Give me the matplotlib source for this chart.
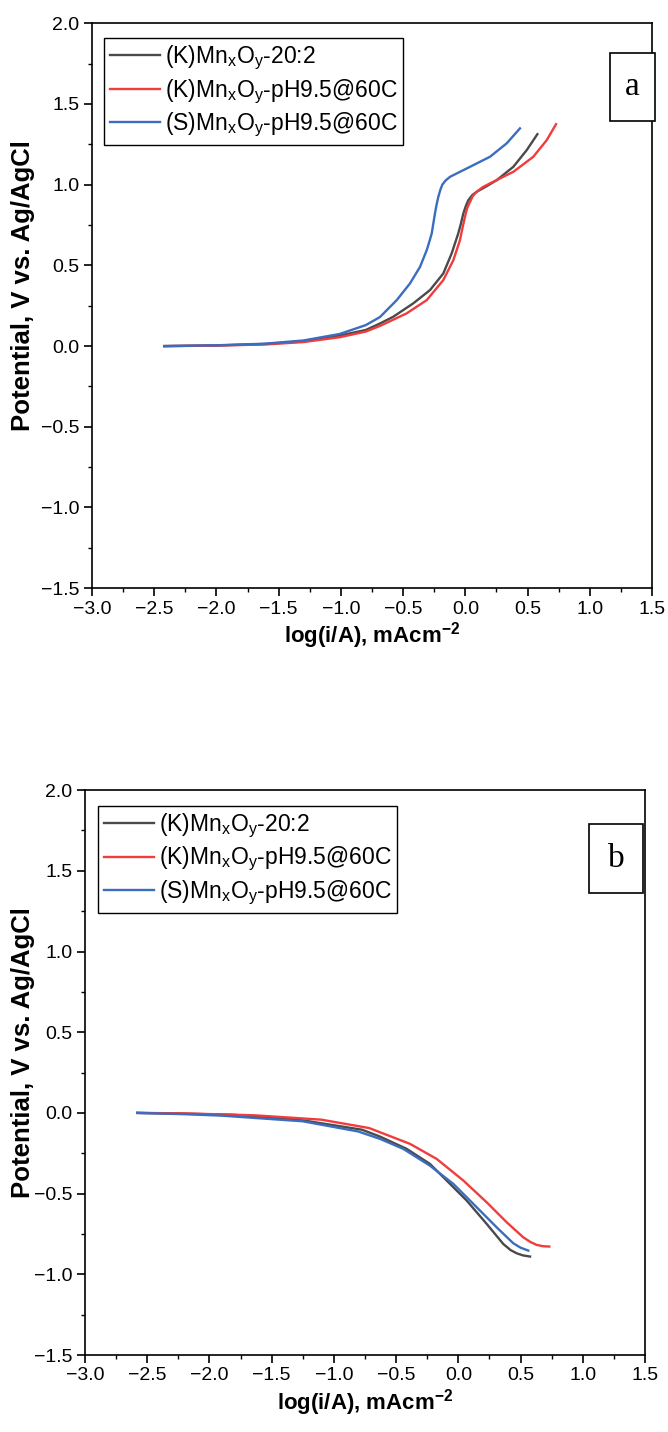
import matplotlib
matplotlib.use("Agg")
import matplotlib.pyplot as plt
from matplotlib.patches import Rectangle
from matplotlib.ticker import MultipleLocator

plt.rcParams['font.family'] = ['Liberation Sans', 'DejaVu Sans']
plt.rcParams['mathtext.fontset'] = 'custom'
plt.rcParams['mathtext.rm'] = 'Liberation Sans'
plt.rcParams['mathtext.it'] = 'Liberation Sans:italic'
plt.rcParams['mathtext.bf'] = 'Liberation Sans:bold'
plt.rcParams['mathtext.default'] = 'regular'

labels = ["(K)Mn$_x$O$_y$-20:2", "(K)Mn$_x$O$_y$-pH9.5@60C", "(S)Mn$_x$O$_y$-pH9.5@60C"]
colors = ['#4a4a4a', '#f03c3c', '#3a6cc0']

# Panel a (anodic)
a_black_x = [-2.42, -2.0, -1.61, -1.3, -1.01, -0.8, -0.686, -0.579, -0.418, -0.284, -0.177, -0.11, -0.057,
             -0.035, -0.016, 0.005, 0.024, 0.055, 0.091, 0.17, 0.252, 0.386, 0.493, 0.579]
a_black_y = [0.0, 0.004, 0.013, 0.03, 0.065, 0.10, 0.14, 0.182, 0.265, 0.347, 0.45, 0.574, 0.698,
             0.76, 0.822, 0.87, 0.904, 0.935, 0.956, 0.99, 1.028, 1.111, 1.214, 1.313]
a_red_x = [-2.42, -2.0, -1.61, -1.3, -1.01, -0.8, -0.686, -0.471, -0.31, -0.177, -0.096, -0.043, -0.022,
           -0.003, 0.015, 0.038, 0.06, 0.091, 0.14, 0.198, 0.386, 0.546, 0.654, 0.729]
a_red_y = [0.0, 0.003, 0.01, 0.025, 0.055, 0.09, 0.125, 0.203, 0.285, 0.409, 0.533, 0.657, 0.735,
           0.801, 0.855, 0.894, 0.93, 0.956, 0.985, 1.008, 1.08, 1.173, 1.276, 1.375]
a_blue_x = [-2.42, -2.0, -1.61, -1.3, -1.01, -0.8, -0.686, -0.551, -0.445, -0.364, -0.31, -0.29, -0.27,
            -0.255, -0.244, -0.23, -0.217, -0.2, -0.185, -0.16, -0.123, 0.038, 0.198, 0.332, 0.439]
a_blue_y = [0.0, 0.005, 0.015, 0.035, 0.075, 0.13, 0.18, 0.285, 0.388, 0.491, 0.595, 0.645, 0.698,
            0.77, 0.822, 0.88, 0.925, 0.97, 1.0, 1.025, 1.049, 1.111, 1.173, 1.256, 1.349]

# Panel b (cathodic)
b_black_x = [-2.58, -2.2, -1.8, -1.25, -0.775, -0.629, -0.415, -0.228, -0.094, 0.067, 0.228, 0.361,
             0.42, 0.469, 0.52, 0.576]
b_black_y = [0.0, -0.005, -0.012, -0.046, -0.104, -0.147, -0.223, -0.316, -0.419, -0.543, -0.688, -0.812,
             -0.85, -0.87, -0.883, -0.89]
b_red_x = [-2.58, -2.2, -1.635, -1.10, -0.716, -0.629, -0.388, -0.174, 0.04, 0.228, 0.389, 0.522,
           0.58, 0.63, 0.68, 0.731]
b_red_y = [0.0, -0.003, -0.015, -0.042, -0.094, -0.12, -0.192, -0.285, -0.419, -0.554, -0.678, -0.771,
           -0.80, -0.818, -0.826, -0.828]
b_blue_x = [-2.58, -2.2, -1.9, -1.25, -0.805, -0.629, -0.442, -0.228, -0.04, 0.148, 0.308, 0.442,
            0.5, 0.562]
b_blue_y = [0.0, -0.008, -0.017, -0.052, -0.115, -0.161, -0.223, -0.327, -0.44, -0.585, -0.709, -0.808,
            -0.835, -0.853]

xticks = [-3.0, -2.5, -2.0, -1.5, -1.0, -0.5, 0.0, 0.5, 1.0, 1.5]
yticks = [-1.5, -1.0, -0.5, 0.0, 0.5, 1.0, 1.5, 2.0]

fig = plt.figure(figsize=(6.68, 14.32), dpi=100)
W, H = 668.0, 1432.0
ax_a = fig.add_axes([92 / W, 1 - 588.2 / H, 560 / W, 564.9 / H])
ax_b = fig.add_axes([85 / W, 1 - 1355 / H, 560 / W, 564.9 / H])

panels = [
    (ax_a, [(a_black_x, a_black_y), (a_red_x, a_red_y), (a_blue_x, a_blue_y)], 'a',
     (0.0214, 0.974), (0.925, 0.827, 0.080, 0.120), -0.101),
    (ax_b, [(b_black_x, b_black_y), (b_red_x, b_red_y), (b_blue_x, b_blue_y)], 'b',
     (0.023, 0.972), (0.900, 0.818, 0.096, 0.122), -0.089),
]

for ax, series, letter, legpos, box, ylx in panels:
    for (x, y), lab, c in zip(series, labels, colors):
        ax.plot(x, y, color=c, lw=1.7, label=lab, solid_joinstyle='round')
    ax.set_xlim(-3.0, 1.5)
    ax.set_ylim(-1.5, 2.0)
    ax.set_xticks(xticks)
    ax.set_yticks(yticks)
    ax.set_xticklabels([f"{t:.1f}".replace('-', '\u2212') for t in xticks])
    ax.set_yticklabels([f"{t:.1f}".replace('-', '\u2212') for t in yticks])
    ax.xaxis.set_minor_locator(MultipleLocator(0.25))
    ax.yaxis.set_minor_locator(MultipleLocator(0.25))
    ax.tick_params(which='major', direction='out', length=6, width=1.2, labelsize=14, pad=3)
    ax.tick_params(which='minor', direction='out', length=3, width=1.0)
    for s in ax.spines.values():
        s.set_linewidth(1.2)
    ax.set_xlabel(r"log(i/A), mAcm$^{\mathbf{-2}}$", fontsize=16, fontweight='bold', labelpad=2)
    ax.set_ylabel("Potential, V vs. Ag/AgCl", fontsize=18.5, fontweight='bold')
    ax.yaxis.set_label_coords(ylx, 0.535)
    leg = ax.legend(loc='upper left', bbox_to_anchor=legpos, borderaxespad=0, fontsize=16.5,
                    frameon=True, fancybox=False, edgecolor='black', framealpha=1,
                    handlelength=2.2, handletextpad=0.2, labelspacing=0.22, borderpad=0.25)
    leg.get_frame().set_linewidth(1.0)
    bx, by, bw, bh = box
    ax.add_patch(Rectangle((bx, by), bw, bh, transform=ax.transAxes, fill=True, facecolor='white',
                           edgecolor='black', lw=1.2, clip_on=False, zorder=5))
    ax.text(bx + bw / 2, by + bh / 2, letter, transform=ax.transAxes, ha='center', va='center',
            fontsize=24, family='Liberation Serif', zorder=6)

fig.savefig("out.png", dpi=100)
